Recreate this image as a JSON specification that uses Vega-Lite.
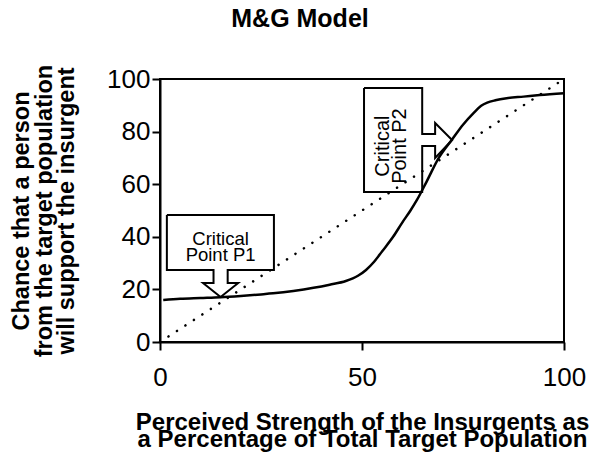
{
  "$schema": "https://vega.github.io/schema/vega-lite/v6.json",
  "width": 404,
  "height": 263,
  "autosize": "none",
  "padding": {"left": 160, "top": 79, "right": 39, "bottom": 113},
  "background": "white",
  "config": {
    "view": {"stroke": "black", "strokeWidth": 2},
    "font": "Liberation Sans",
    "axis": {
      "grid": false,
      "domainColor": "black",
      "domainWidth": 2,
      "tickColor": "black",
      "tickWidth": 2,
      "tickSize": 8,
      "labelColor": "black",
      "labelFontSize": 26,
      "labelFont": "Liberation Sans",
      "titleColor": "black",
      "titleFont": "Liberation Sans",
      "titleFontWeight": "bold",
      "labelFlush": false,
      "labelOverlap": false
    }
  },
  "title": {
    "text": "M&G Model",
    "fontSize": 25,
    "fontWeight": "bold",
    "font": "Liberation Sans",
    "color": "black",
    "anchor": "middle",
    "dx": -62,
    "offset": 32
  },
  "datasets": {
    "curve": [
      {"x": 0.8, "y": 16.0}, {"x": 5, "y": 16.4}, {"x": 10, "y": 16.7}, {"x": 15, "y": 17.0},
      {"x": 20, "y": 17.5}, {"x": 25, "y": 18.1}, {"x": 28, "y": 18.5}, {"x": 33, "y": 19.4},
      {"x": 38, "y": 20.6}, {"x": 42, "y": 21.8}, {"x": 46, "y": 23.2}, {"x": 49, "y": 25.2},
      {"x": 51, "y": 27.4}, {"x": 53, "y": 30.5}, {"x": 55, "y": 34.5}, {"x": 57.7, "y": 40},
      {"x": 60, "y": 45.5}, {"x": 62, "y": 50}, {"x": 63.6, "y": 54}, {"x": 66, "y": 61},
      {"x": 69, "y": 70}, {"x": 72.3, "y": 77}, {"x": 75, "y": 82.6}, {"x": 77.6, "y": 87},
      {"x": 79.5, "y": 89.8}, {"x": 81, "y": 91}, {"x": 83, "y": 91.9}, {"x": 85.8, "y": 92.7},
      {"x": 90, "y": 93.3}, {"x": 94, "y": 93.9}, {"x": 100, "y": 94.6}
    ],
    "diag": [{"x": 0, "y": 0}, {"x": 100, "y": 100}],
    "callouts": [
      {"id": "p1", "ord": 1, "x": 1.7, "y": 48.3},
      {"id": "p1", "ord": 2, "x": 28.2, "y": 48.3},
      {"id": "p1", "ord": 3, "x": 28.2, "y": 27.4},
      {"id": "p1", "ord": 4, "x": 16.75, "y": 27.4},
      {"id": "p1", "ord": 5, "x": 16.75, "y": 22.4},
      {"id": "p1", "ord": 6, "x": 19.35, "y": 22.4},
      {"id": "p1", "ord": 7, "x": 15, "y": 17.1},
      {"id": "p1", "ord": 8, "x": 10.65, "y": 22.4},
      {"id": "p1", "ord": 9, "x": 13.25, "y": 22.4},
      {"id": "p1", "ord": 10, "x": 13.25, "y": 27.4},
      {"id": "p1", "ord": 11, "x": 1.7, "y": 27.4},
      {"id": "p1", "ord": 12, "x": 1.7, "y": 48.3},
      {"id": "p2", "ord": 1, "x": 50.5, "y": 96.6},
      {"id": "p2", "ord": 2, "x": 64.9, "y": 96.6},
      {"id": "p2", "ord": 3, "x": 64.9, "y": 79.1},
      {"id": "p2", "ord": 4, "x": 68.1, "y": 79.1},
      {"id": "p2", "ord": 5, "x": 68.1, "y": 83.3},
      {"id": "p2", "ord": 6, "x": 72.3, "y": 76.8},
      {"id": "p2", "ord": 7, "x": 68.1, "y": 70.0},
      {"id": "p2", "ord": 8, "x": 68.1, "y": 74.5},
      {"id": "p2", "ord": 9, "x": 64.9, "y": 74.5},
      {"id": "p2", "ord": 10, "x": 64.9, "y": 57.0},
      {"id": "p2", "ord": 11, "x": 50.5, "y": 57.0},
      {"id": "p2", "ord": 12, "x": 50.5, "y": 96.6}
    ],
    "label1": [{"x": 15.0, "y": 39.3, "label": "Critical|Point P1"}],
    "label2": [{"x": 55.3, "y": 74.5, "label": "Critical|Point P2"}]
  },
  "layer": [
    {
      "data": {"name": "callouts"},
      "mark": {"type": "line", "color": "black", "strokeWidth": 2, "strokeJoin": "miter"},
      "encoding": {
        "x": {"field": "x", "type": "quantitative", "scale": {"domain": [0, 100], "nice": false},
          "axis": {
            "values": [0, 50, 100],
            "labelPadding": 14,
            "title": ["Perceived Strength of the Insurgents as", "a Percentage of Total Target Population"],
            "titleFontSize": 24,
            "titleLineHeight": 17,
            "titlePadding": 20
          }},
        "y": {"field": "y", "type": "quantitative", "scale": {"domain": [0, 100], "nice": false},
          "axis": {
            "values": [0, 20, 40, 60, 80, 100],
            "labelPadding": 2,
            "title": ["Chance that a person", "from the target population", "will support the insurgent"],
            "titleFontSize": 23.5,
            "titleLineHeight": 22.5,
            "titlePadding": 28
          }},
        "detail": {"field": "id", "type": "nominal"},
        "order": {"field": "ord", "type": "quantitative"}
      }
    },
    {
      "data": {"name": "label1"},
      "mark": {"type": "text", "fontSize": 18.5, "lineHeight": 16, "lineBreak": "|", "color": "black", "align": "center", "baseline": "middle", "font": "Liberation Sans"},
      "encoding": {
        "x": {"field": "x", "type": "quantitative"},
        "y": {"field": "y", "type": "quantitative"},
        "text": {"field": "label", "type": "nominal"}
      }
    },
    {
      "data": {"name": "label2"},
      "mark": {"type": "text", "fontSize": 20, "lineHeight": 17, "lineBreak": "|", "angle": 270, "color": "black", "align": "center", "baseline": "middle", "font": "Liberation Sans"},
      "encoding": {
        "x": {"field": "x", "type": "quantitative"},
        "y": {"field": "y", "type": "quantitative"},
        "text": {"field": "label", "type": "nominal"}
      }
    },
    {
      "data": {"name": "diag"},
      "mark": {"type": "line", "color": "black", "strokeWidth": 2.5, "strokeDash": [0.1, 10], "strokeCap": "round"},
      "encoding": {
        "x": {"field": "x", "type": "quantitative"},
        "y": {"field": "y", "type": "quantitative"}
      }
    },
    {
      "data": {"name": "curve"},
      "mark": {"type": "line", "color": "black", "strokeWidth": 2.5, "interpolate": "monotone"},
      "encoding": {
        "x": {"field": "x", "type": "quantitative"},
        "y": {"field": "y", "type": "quantitative"}
      }
    }
  ]
}
